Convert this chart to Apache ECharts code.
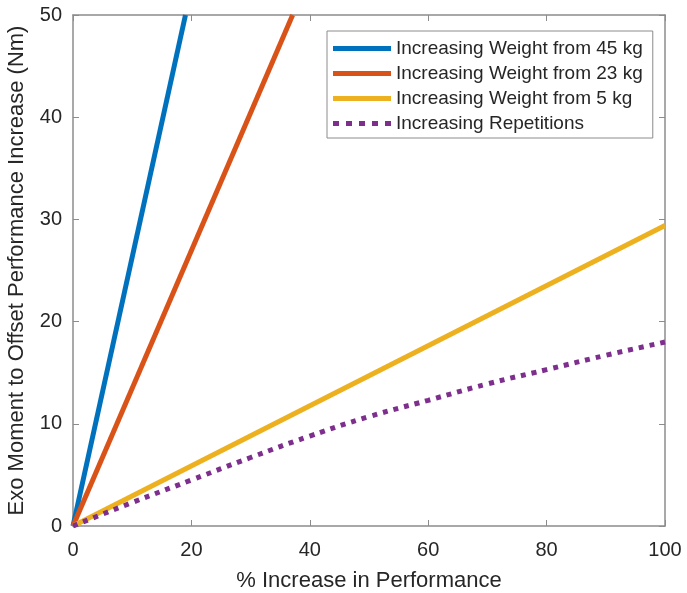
<!DOCTYPE html>
<html>
<head>
  <meta charset="UTF-8">
  <title>Exo Moment</title>
  <script src="https://cdn.jsdelivr.net/npm/echarts@6/dist/echarts.min.js"></script>
  <style>
    html, body { margin:0; padding:0; background:#fff; }
    #chart { width:687px; height:593px; }
  </style>
</head>
<body>
<div id="chart"></div>
<script type="text/javascript">
  // x values (% increase in performance) and moments (Nm)
  var names = ['Increasing Weight from 45 kg','Increasing Weight from 23 kg','Increasing Weight from 5 kg','Increasing Repetitions'];
  var w45X = [0, 19.0];
  var w45Y = [0, 50];
  var w23X = [0, 37.1];
  var w23Y = [0, 50];
  var w5X = [0, 100];
  var w5Y = [0, 29.4];
  var repX = [0, 10, 20, 30, 40, 50, 60, 70, 80, 90, 100];
  var repY = [0, 2.3, 4.5, 6.7, 8.8, 10.7, 12.3, 13.9, 15.3, 16.7, 18.0];
  var xTicks = [0, 20, 40, 60, 80, 100];
  var yTicks = [0, 10, 20, 30, 40, 50];
  var colors = ['#0072BD','#D95319','#EDB120','#7E2F8E'];

  function pairs(xs, ys){
    var out = [];
    for (var i = 0; i < xs.length; i++) out.push([xs[i], ys[i]]);
    return out;
  }

  var font = 'Liberation Sans, Arial, sans-serif';
  var axisCol = '#8c8c8c';
  var textCol = '#262626';
  // legend samples: solid bar and a row of dots
  var solidIcon = 'path://M0,0h58v5h-58z';
  var dotIcon = 'path://M0,0h6v5h-6z M13,0h6v5h-6z M26,0h6v5h-6z M39,0h6v5h-6z M52,0h6v5h-6z';

  var chart = echarts.init(document.getElementById('chart'));
  chart.setOption({
    animation:false,
    textStyle:{ fontFamily:font },
    grid:{ left:73, right:22, top:15, bottom:67, outerBoundsMode:'none', containLabel:false },
    legend:{
      orient:'vertical',
      left:327, top:31,
      itemWidth:58, itemHeight:5, itemGap:6,
      padding:[8,10,5,6],
      borderColor:'#8c8c8c', borderWidth:1,
      backgroundColor:'#fff',
      itemStyle:{ borderWidth:0 },
      textStyle:{ fontSize:19, color:textCol, fontFamily:font },
      data:[
        { name:names[0], icon:solidIcon },
        { name:names[1], icon:solidIcon },
        { name:names[2], icon:solidIcon },
        { name:names[3], icon:dotIcon }
      ]
    },
    xAxis:[{
      type:'value', min:0, max:100, interval:20,
      name:'% Increase in Performance', nameLocation:'middle', nameGap:44,
      nameTextStyle:{ fontSize:22, color:textCol },
      axisLine:{ onZero:false, lineStyle:{ color:axisCol, width:1.5 } },
      axisTick:{ inside:true, length:6, lineStyle:{ color:axisCol } },
      axisLabel:{ fontSize:20, color:textCol, margin:14 },
      splitLine:{ show:false }
    },{
      type:'value', min:0, max:100, interval:20, position:'top',
      axisLine:{ onZero:false, lineStyle:{ color:axisCol, width:1.5 } },
      axisTick:{ inside:true, length:6, lineStyle:{ color:axisCol } },
      axisLabel:{ show:false },
      splitLine:{ show:false }
    }],
    yAxis:[{
      type:'value', min:0, max:50, interval:10,
      name:'Exo Moment to Offset Performance Increase (Nm)', nameLocation:'middle', nameGap:45,
      nameTextStyle:{ fontSize:22, color:textCol },
      axisLine:{ show:true, onZero:false, lineStyle:{ color:axisCol, width:1.5 } },
      axisTick:{ show:true, inside:true, length:6, lineStyle:{ color:axisCol } },
      axisLabel:{ fontSize:20, color:textCol, margin:11 },
      splitLine:{ show:false }
    },{
      type:'value', min:0, max:50, interval:10, position:'right',
      axisLine:{ show:true, onZero:false, lineStyle:{ color:axisCol, width:1.5 } },
      axisTick:{ show:true, inside:true, length:6, lineStyle:{ color:axisCol } },
      axisLabel:{ show:false },
      splitLine:{ show:false }
    }],
    series:[
      { name:names[0], type:'line', symbol:'none', data:pairs(w45X, w45Y), color:colors[0], lineStyle:{ width:5, color:colors[0] } },
      { name:names[1], type:'line', symbol:'none', data:pairs(w23X, w23Y), color:colors[1], lineStyle:{ width:5, color:colors[1] } },
      { name:names[2], type:'line', symbol:'none', data:pairs(w5X, w5Y), color:colors[2], lineStyle:{ width:5, color:colors[2] } },
      { name:names[3], type:'line', symbol:'none', smooth:true, data:pairs(repX, repY), color:colors[3], lineStyle:{ width:5, color:colors[3], type:[5,6] } }
    ]
  });
</script>
</body>
</html>
